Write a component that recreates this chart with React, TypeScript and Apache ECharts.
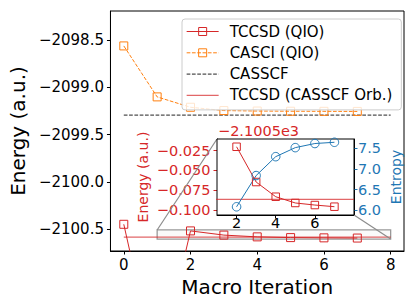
import React, { useEffect, useRef } from "react";
import * as echarts from "echarts";

// ---- data ----
const iterations = [0, 1, 2, 3, 4, 5, 6, 7];
const tccsdQio = [-2100.45, -2102.03, -2100.52, -2100.5646, -2100.5832, -2100.5911, -2100.5937, -2100.5958];
const casciQio = [-2098.56, -2099.1, -2099.21, -2099.245, -2099.25, -2099.252, -2099.253, -2099.254];
const refSpan = [0, 8];
const casscfEnergy = -2099.293;
const tccsdCasscfOrbEnergy = -2100.5865;
const insetIterations = [2, 3, 4, 5, 6, 7];
const entropy = [6.08, 6.84, 7.3, 7.52, 7.62, 7.65];

// ---- ticks ----
const mainXTicks = [0, 2, 4, 6, 8];
const mainYTicks = [-2100.5, -2100.0, -2099.5, -2099.0, -2098.5];
const insetXTicks = [2, 4, 6];
const insetEnergyTicks = [-2100.525, -2100.55, -2100.575, -2100.6];
const entropyTicks = [6.0, 6.5, 7.0, 7.5];
const insetOffset = -2100.5;
const offsetLabel = "\u22122.1005e3";
const zoomX = [1, 8];
const zoomY = [-2100.6063, -2100.5102];

const RED = "#d62728";
const ORANGE = "#ff7f0e";
const BLUE = "#1f77b4";
const FONT = "DejaVu Sans";
const minus = (s: string) => s.replace(/-/g, "\u2212");

export default function App() {
  const ref = useRef<HTMLDivElement>(null);
  useEffect(() => {
    if (!ref.current) return;
    const chart = echarts.init(ref.current, undefined, { renderer: "svg" });
    const dash = [3.7, 1.6];
    const tickStyle = (color: string) => ({ color, width: 1 });
    chart.setOption({
      animation: false,
      textStyle: { fontFamily: FONT },
      grid: [
        { left: 107, top: 11, width: 297, height: 240, show: true, borderColor: "#000", borderWidth: 1, backgroundColor: "transparent" },
        { left: 217, top: 139, width: 137, height: 76, show: true, borderColor: "#000", borderWidth: 1, backgroundColor: "#fff", z: 5 },
      ],
      legend: {
        orient: "vertical",
        left: 182,
        top: 19,
        padding: [5, 9, 7, 4],
        itemWidth: 32,
        itemHeight: 10,
        itemGap: 6.3,
        backgroundColor: "rgba(255,255,255,0.8)",
        borderColor: "#cccccc",
        borderWidth: 1,
        borderRadius: 3,
        textStyle: { fontSize: 15, color: "#000", fontFamily: FONT, lineHeight: 15, padding: [0, 0, 0, 6] },
        data: [
          { name: "TCCSD (QIO)", itemStyle: { color: "rgba(0,0,0,0)", borderColor: RED, borderWidth: 1 }, lineStyle: { color: RED, width: 1 } },
          { name: "CASCI (QIO)", itemStyle: { color: "rgba(0,0,0,0)", borderColor: ORANGE, borderWidth: 1 }, lineStyle: { color: ORANGE, width: 1, type: dash } },
          { name: "CASSCF", itemStyle: { opacity: 0 }, lineStyle: { color: "#222", width: 1, type: dash } },
          { name: "TCCSD (CASSCF Orb.)", itemStyle: { opacity: 0 }, lineStyle: { color: RED, width: 1.3, opacity: 0.7 } },
        ],
      },
      xAxis: [
        {
          gridIndex: 0, type: "value", min: -0.4, max: 8.4,
          axisLine: { onZero: false, lineStyle: { color: "#000", width: 1 } },
          axisTick: { customValues: mainXTicks, length: 3.5, lineStyle: tickStyle("#000") },
          axisLabel: { customValues: mainXTicks, fontSize: 15, color: "#000", margin: 6, fontFamily: FONT },
          splitLine: { show: false },
          name: "Macro Iteration", nameLocation: "middle", nameGap: 24,
          nameTextStyle: { fontSize: 20, color: "#000", fontFamily: FONT },
        },
        {
          gridIndex: 1, type: "value", min: zoomX[0], max: zoomX[1],
          axisLine: { onZero: false, lineStyle: { color: "#000", width: 1 } },
          axisTick: { customValues: insetXTicks, length: 3.5, lineStyle: tickStyle("#000") },
          axisLabel: { customValues: insetXTicks, fontSize: 14.5, color: "#000", margin: 0, fontFamily: FONT },
          splitLine: { show: true, lineStyle: { color: "#b0b0b0", width: 0.8 } },
        },
      ],
      yAxis: [
        {
          gridIndex: 0, type: "value", min: -2100.733, max: -2098.19,
          axisLine: { onZero: false, lineStyle: { color: "#000", width: 1 } },
          axisTick: { customValues: mainYTicks, length: 3.5, lineStyle: tickStyle("#000") },
          axisLabel: { customValues: mainYTicks, fontSize: 15, color: "#000", margin: 6.5, fontFamily: FONT, formatter: (v: number) => minus(v.toFixed(1)) },
          splitLine: { show: false },
          name: "Energy (a.u.)", nameLocation: "middle", nameGap: 77,
          nameTextStyle: { fontSize: 20, color: "#000", fontFamily: FONT },
        },
        {
          gridIndex: 1, type: "value", position: "left", min: zoomY[0], max: zoomY[1],
          axisLine: { onZero: false, lineStyle: { color: "#000", width: 1 } },
          axisTick: { customValues: insetEnergyTicks, length: 3.5, lineStyle: tickStyle(RED) },
          axisLabel: { customValues: insetEnergyTicks, fontSize: 14.5, color: RED, margin: 6.5, fontFamily: FONT, formatter: (v: number) => minus((v - insetOffset).toFixed(3)) },
          splitLine: { show: true, lineStyle: { color: "#b0b0b0", width: 0.8 } },
          name: "Energy (a.u.)", nameLocation: "middle", nameGap: 67,
          nameTextStyle: { fontSize: 14, color: RED, fontFamily: FONT },
        },
        {
          gridIndex: 1, type: "value", position: "right", min: 5.88, max: 7.73,
          axisLine: { onZero: false, lineStyle: { color: "#000", width: 1 } },
          axisTick: { customValues: entropyTicks, length: 3.5, lineStyle: tickStyle(BLUE) },
          axisLabel: { customValues: entropyTicks, fontSize: 14.5, color: BLUE, margin: 4, fontFamily: FONT, formatter: (v: number) => v.toFixed(1) },
          splitLine: { show: false },
          name: "Entropy", nameLocation: "middle", nameGap: 35,
          nameTextStyle: { fontSize: 14, color: BLUE, fontFamily: FONT },
        },
      ],
      series: [
        {
          name: "TCCSD (CASSCF Orb.)", type: "line", xAxisIndex: 0, yAxisIndex: 0,
          data: refSpan.map((x) => [x, tccsdCasscfOrbEnergy]),
          symbol: "none", clip: true, z: 2,
          lineStyle: { color: RED, width: 1.3, opacity: 0.7 },
          markArea: {
            silent: true, label: { show: false },
            itemStyle: { color: "rgba(128,128,128,0.04)", borderColor: "#999", borderWidth: 1.3 },
            data: [[{ coord: [zoomX[0], zoomY[0]] }, { coord: [zoomX[1], zoomY[1]] }]],
          },
        },
        {
          name: "CASSCF", type: "line", xAxisIndex: 0, yAxisIndex: 0,
          data: refSpan.map((x) => [x, casscfEnergy]),
          symbol: "none", clip: true, z: 2,
          lineStyle: { color: "#222", width: 1, type: dash },
        },
        {
          name: "TCCSD (QIO)", type: "line", xAxisIndex: 0, yAxisIndex: 0,
          data: iterations.map((x, i) => [x, tccsdQio[i]]),
          symbol: "rect", symbolSize: 8, showAllSymbol: true, clip: true, z: 3,
          itemStyle: { color: "rgba(0,0,0,0)", borderColor: RED, borderWidth: 1 },
          lineStyle: { color: RED, width: 1 },
        },
        {
          name: "CASCI (QIO)", type: "line", xAxisIndex: 0, yAxisIndex: 0,
          data: iterations.map((x, i) => [x, casciQio[i]]),
          symbol: "rect", symbolSize: 8, showAllSymbol: true, clip: true, z: 3,
          itemStyle: { color: "rgba(0,0,0,0)", borderColor: ORANGE, borderWidth: 1 },
          lineStyle: { color: ORANGE, width: 1, type: dash },
        },
        {
          name: "inset-ref", type: "line", xAxisIndex: 1, yAxisIndex: 1,
          data: refSpan.map((x) => [x, tccsdCasscfOrbEnergy]),
          symbol: "none", clip: true, z: 6,
          lineStyle: { color: RED, width: 1.3, opacity: 0.7 },
        },
        {
          name: "inset-tccsd", type: "line", xAxisIndex: 1, yAxisIndex: 1,
          data: insetIterations.map((x) => [x, tccsdQio[iterations.indexOf(x)]]),
          symbol: "rect", symbolSize: 7.5, showAllSymbol: true, clip: true, z: 7,
          itemStyle: { color: "rgba(0,0,0,0)", borderColor: RED, borderWidth: 1 },
          lineStyle: { color: RED, width: 1 },
        },
        {
          name: "inset-entropy", type: "line", xAxisIndex: 1, yAxisIndex: 2,
          data: insetIterations.map((x, i) => [x, entropy[i]]),
          symbol: "circle", symbolSize: 8.5, showAllSymbol: true, clip: false, z: 7,
          itemStyle: { color: "rgba(0,0,0,0)", borderColor: BLUE, borderWidth: 1 },
          lineStyle: { color: BLUE, width: 1 },
        },
      ],
    });

    const p1 = chart.convertToPixel({ xAxisIndex: 0, yAxisIndex: 0 }, [zoomX[0], zoomY[1]]) as number[];
    const q1 = chart.convertToPixel({ xAxisIndex: 1, yAxisIndex: 1 }, [zoomX[0], zoomY[1]]) as number[];
    const p2 = chart.convertToPixel({ xAxisIndex: 0, yAxisIndex: 0 }, [zoomX[1], zoomY[0]]) as number[];
    const q2 = chart.convertToPixel({ xAxisIndex: 1, yAxisIndex: 1 }, [zoomX[1], zoomY[0]]) as number[];
    chart.setOption({
      graphic: [
        { type: "line", z: 4, shape: { x1: p1[0], y1: p1[1], x2: q1[0], y2: q1[1] }, style: { stroke: "#8c8c8c", lineWidth: 1.2 } },
        { type: "line", z: 4, shape: { x1: p2[0], y1: p2[1], x2: q2[0], y2: q2[1] }, style: { stroke: "#8c8c8c", lineWidth: 1.2 } },
        {
          type: "text", z: 10, x: q1[0] + 1, y: q1[1] - 8,
          style: { text: offsetLabel, fill: RED, fontSize: 14.5, fontFamily: FONT, align: "left", verticalAlign: "middle" },
        },
      ],
    });
    return () => chart.dispose();
  }, []);
  return <div ref={ref} style={{ position: "absolute", left: 0, top: 0, width: 415, height: 308 }} />;
}
